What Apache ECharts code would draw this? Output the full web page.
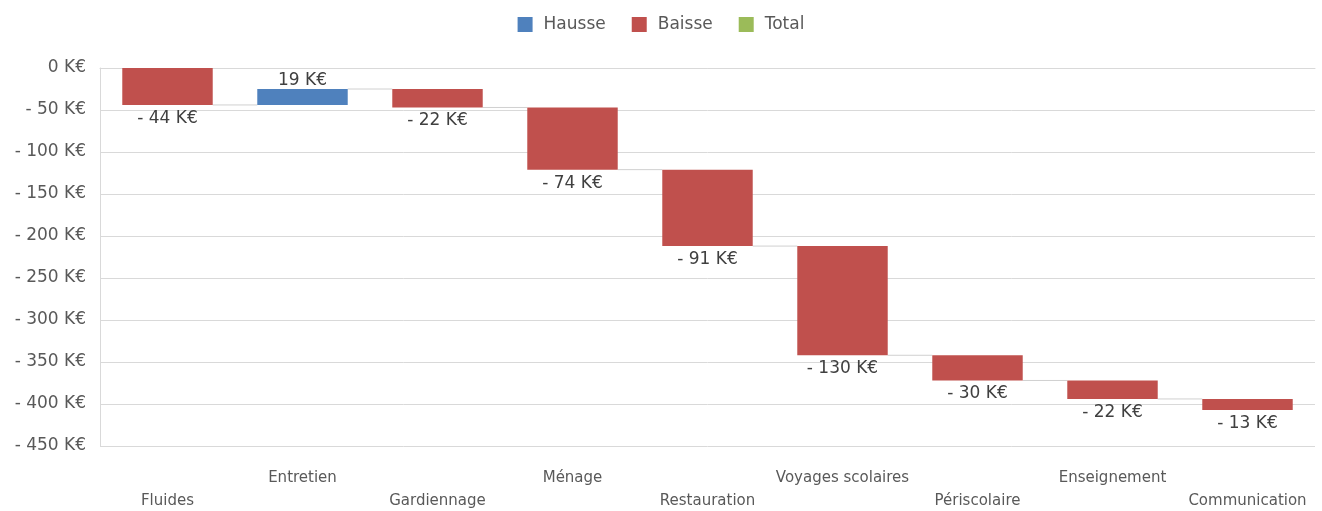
<!DOCTYPE html>
<html>
<head>
<meta charset="utf-8">
<script src="https://cdn.jsdelivr.net/npm/echarts@6/dist/echarts.min.js"></script>
<style>
html,body{margin:0;padding:0;background:#fff;}
#chart{width:1322px;height:511px;}
</style>
</head>
<body>
<div id="chart"></div>
<script>
const categories = ['Fluides','Entretien','Gardiennage','Ménage','Restauration','Voyages scolaires','Périscolaire','Enseignement','Communication'];
const changes = [-44, 19, -22, -74, -91, -130, -30, -22, -13];
const yTicks = [0, -50, -100, -150, -200, -250, -300, -350, -400, -450];

const FONT = 'DejaVu Sans';
const cum = [];
let run = 0;
changes.forEach(function(c){ const start = run; run += c; cum.push([start, run]); });

const placeholder = cum.map(function(se){ return Math.max(se[0], se[1]); });
const hausse = changes.map(function(c){ return c > 0 ? -c : '-'; });
const baisse = changes.map(function(c){ return c < 0 ? c : '-'; });
const total = categories.map(function(){ return '-'; });
const connectors = [];
for (let i = 0; i < categories.length - 1; i++) connectors.push([i, cum[i][1]]);

function fmt(v){ return v === 0 ? '0 K€' : (v < 0 ? '- ' + (-v) + ' K€' : v + ' K€'); }

const chart = echarts.init(document.getElementById('chart'));
chart.setOption({
  animation: false,
  textStyle: { fontFamily: FONT },
  legend: {
    top: 11, left: 'center', itemWidth: 15, itemHeight: 15, itemGap: 26,
    icon: 'rect',
    textStyle: { fontFamily: FONT, fontSize: 17, color: '#595959', padding: [0, 0, 0, 6] },
    data: ['Hausse', 'Baisse', 'Total']
  },
  grid: { left: 100, right: 7, top: 68, bottom: 65, containLabel: false, outerBoundsMode: 'none' },
  xAxis: {
    type: 'category', data: categories,
    axisLine: { show: true, lineStyle: { color: '#d9d9d9' } },
    axisTick: { show: false },
    axisLabel: {
      interval: 0, margin: 21, fontFamily: FONT, fontSize: 15, color: '#595959', lineHeight: 23,
      formatter: function(v, i){ return i % 2 === 0 ? '\n' + v : v; }
    }
  },
  yAxis: {
    type: 'value', min: -450, max: 0, interval: 50,
    axisLine: { show: true, lineStyle: { color: '#d9d9d9' } },
    axisTick: { show: false },
    splitLine: { lineStyle: { color: '#d9d9d9' } },
    axisLabel: { fontFamily: FONT, fontSize: 17, color: '#595959', margin: 14, padding: [3, 0, 0, 0],
      formatter: function(v){ return yTicks.indexOf(v) >= 0 ? fmt(v) : ''; } }
  },
  series: [
    { name: 'base', type: 'bar', stack: 'w', barWidth: '67%', data: placeholder,
      itemStyle: { color: 'transparent' }, silent: true },
    { name: 'Hausse', type: 'bar', stack: 'w', data: hausse,
      itemStyle: { color: '#4F81BD' },
      label: { show: true, position: 'top', distance: 0, fontFamily: FONT, fontSize: 17, color: '#404040',
        formatter: function(p){ return fmt(changes[p.dataIndex]); } } },
    { name: 'Baisse', type: 'bar', stack: 'w', data: baisse,
      itemStyle: { color: '#C0504D' },
      label: { show: true, position: 'bottom', distance: 5, fontFamily: FONT, fontSize: 17, color: '#404040',
        formatter: function(p){ return fmt(changes[p.dataIndex]); } } },
    { name: 'Total', type: 'bar', stack: 'w', data: total, itemStyle: { color: '#9BBB59' } },
    { name: 'conn', type: 'custom', data: connectors, silent: true, z: 1,
      renderItem: function(params, api){
        const p = api.coord([api.value(0), api.value(1)]);
        const w = api.size([1, 0])[0];
        const bw = w * 0.67;
        return { type: 'line', shape: { x1: p[0] + bw / 2, y1: p[1], x2: p[0] + w - bw / 2, y2: p[1] },
          style: { stroke: '#d0d0d0', lineWidth: 1 } };
      } }
  ]
});
</script>
</body>
</html>
